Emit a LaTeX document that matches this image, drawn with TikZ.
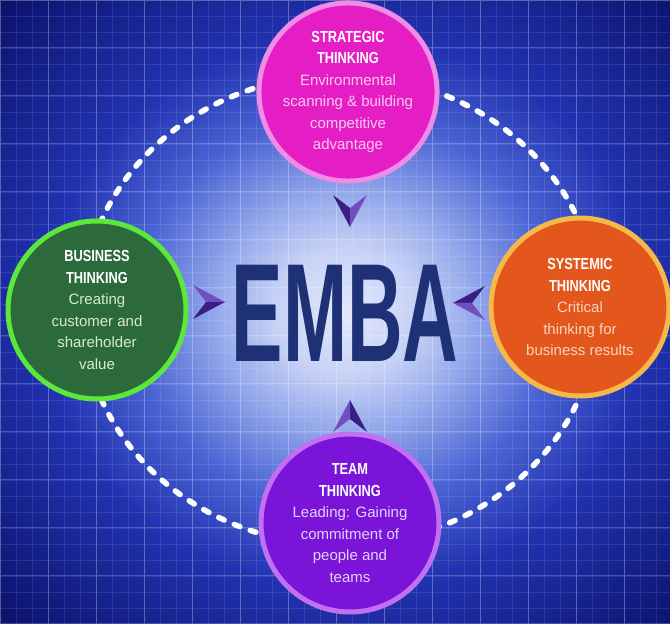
\documentclass[tikz,border=0pt]{standalone}
\usepackage{fontspec}
\setmainfont{Liberation Sans}
\usepackage{graphicx}
\definecolor{glowc}{HTML}{E2E8FC}
\definecolor{palec}{HTML}{C6D1F6}
\definecolor{lightb}{HTML}{97ABEC}
\definecolor{midb}{HTML}{4A64D4}
\definecolor{blueb}{HTML}{2132B0}
\definecolor{darkb}{HTML}{0C1470}
\definecolor{embac}{HTML}{1F3176}
\definecolor{chevdark}{HTML}{3B1D86}
\definecolor{chevlight}{HTML}{7150BE}
\pgfdeclareradialshading{backglow}{\pgfpoint{0bp}{0bp}}{%
  color(0bp)=(glowc); color(70bp)=(palec); color(125bp)=(lightb);
  color(210bp)=(midb); color(300bp)=(blueb); color(470bp)=(darkb);
  color(540bp)=(darkb)}
\tikzset{%
  bubble/.style = {shape=circle, minimum size=178pt, inner sep=0pt,%
                   line width=5pt, align=center,%
                   font=\fontsize{15}{21.5}\selectfont},%
  ring/.style   = {white, line width=5.5pt, line cap=round,%
                   dash pattern=on 6pt off 11pt},%
  chev/.pic     = {\fill[chevdark] (0,0) -- (-17pt,32pt) -- (0,19pt) -- cycle;
                   \fill[chevlight] (0,0) -- (17pt,32pt) -- (0,19pt) -- cycle;}%
}
\newcommand{\headline}[1]{\scalebox{0.8}[1]{\color{white}\bfseries\fontsize{16}{21.5}\selectfont #1}}

\begin{document}
\begin{tikzpicture}[x=1pt,y=1pt]
	\useasboundingbox (0,0) rectangle (670,624);
	% background
	\begin{scope}
		\clip (0,0) rectangle (670,624);
		\begin{scope}[shift={(345,312)}, yscale=0.92]
			\pgflowlevelsynccm
			\pgfuseshading{backglow}
		\end{scope}
	\end{scope}
	\draw[white, opacity=0.10, line width=0.6pt] (0,0) grid[step=16pt] (670,624);
	\draw[white, opacity=0.22, line width=1pt] (0,0) grid[step=48pt] (670,624);
	% dashed ring
	\draw[ring] (340,314) ellipse [x radius=258pt, y radius=235pt];
	% centre
	\node[text=embac, inner sep=0pt] (emba) at (345,311)
		{\scalebox{0.55}[1]{\bfseries\fontsize{140}{140}\selectfont EMBA}};
	\pic[rotate=0]   at (350,397) {chev};
	\pic[rotate=180] at (350,224) {chev};
	\pic[rotate=90]  at (225,322) {chev};
	\pic[rotate=-90] at (453,321) {chev};
	% four circles
	\node[bubble, fill={rgb,255:red,228;green,30;blue,196}, draw={rgb,255:red,240;green,140;blue,232},
		text={rgb,255:red,250;green,200;blue,242}] (strategic) at (348,532)
		{\headline{STRATEGIC}\\ \headline{THINKING}\\ Environmental\\ scanning \& building\\ competitive\\ advantage};
	\node[bubble, fill={rgb,255:red,44;green,106;blue,60}, draw={rgb,255:red,92;green,232;blue,58},
		text={rgb,255:red,214;green,236;blue,204}] (business) at (97,314)
		{\headline{BUSINESS}\\ \headline{THINKING}\\ Creating\\ customer and\\ shareholder\\ value};
	\node[bubble, fill={rgb,255:red,227;green,86;blue,28}, draw={rgb,255:red,245;green,184;blue,74},
		text={rgb,255:red,250;green,212;blue,188}] (systemic) at (580,317)
		{\headline{SYSTEMIC}\\ \headline{THINKING}\\ Critical\\ thinking for\\ business results};
	\node[bubble, fill={rgb,255:red,122;green,20;blue,216}, draw={rgb,255:red,192;green,112;blue,240},
		text={rgb,255:red,228;green,208;blue,250}] (team) at (350,101)
		{\headline{TEAM}\\ \headline{THINKING}\\ Leading: Gaining\\ commitment of\\ people and\\ teams};
\end{tikzpicture}
\end{document}
